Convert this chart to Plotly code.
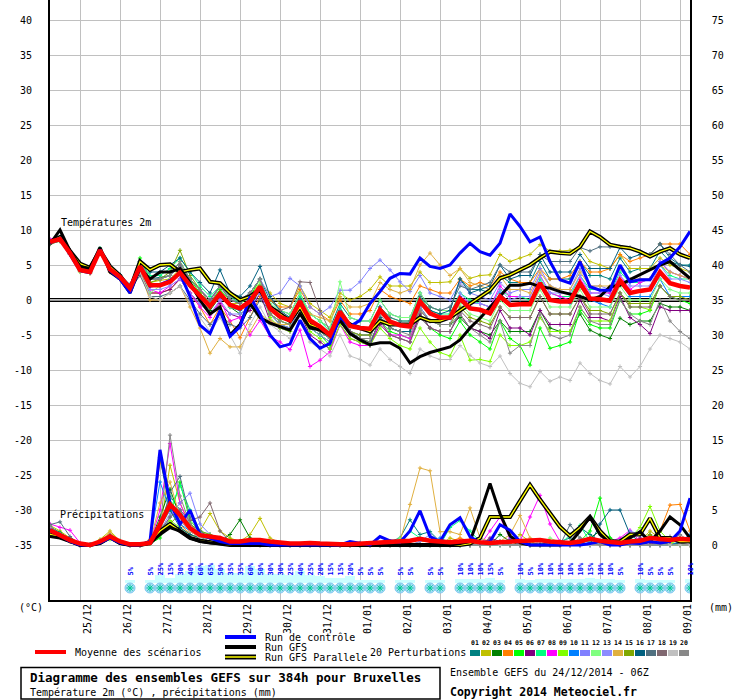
import plotly.graph_objects as go

# GEFS ensemble diagram (Meteociel style): 2m temperature + 6h precipitation
FONT = "DejaVu Sans Mono"
W, H = 740, 700
ML, MR, MT, MB = 50, 50, 0, 100          # plot area = 640 x 600 px

STEP = 6
HOURS = list(range(0, 385, STEP))        # 24/12 06Z -> 09/01 06Z, 65 outputs
DAY_LABELS = ["25/12", "26/12", "27/12", "28/12", "29/12", "30/12", "31/12", "01/01",
              "02/01", "03/01", "04/01", "05/01", "06/01", "07/01", "08/01", "09/01"]
DAY_HOURS = [18 + 24 * k for k in range(len(DAY_LABELS))]   # 00Z of each day

T_TICKS = list(range(-35, 45, 5))
MM_TICKS = list(range(0, 80, 5))
T_RANGE = [-300 / 7, 300 / 7]
MM_RANGE = [T_RANGE[0] + 35, T_RANGE[1] + 35]

COLORS = ["#008080", "#c0c000", "#008000", "#ff8000", "#00ff00", "#800080", "#00ff80",
          "#ff00ff", "#80ff00", "#0080ff", "#8080ff", "#80ff80", "#8c8cff", "#e0b040",
          "#80a800", "#006080", "#507080", "#806870", "#c0c0c0", "#888888"]

# ---- temperature 2m (°C) ----
MEAN_T = [8.3, 8.7, 6.7, 4.3, 4.0, 7.1, 4.4, 3.3, 1.7,
          4.8, 2.1, 2.1, 2.6, 3.9, 2.1, 0.5, -0.9, 0.9, -0.7, -1.2, -0.2, 1.9,
          -1.2, -2.4, -2.9, -0.2, -2.9, -3.8, -5.0, -1.7, -3.7, -4.0, -4.1, -1.4, -3.1, -3.6, -3.8, -0.2, -1.9, -2.5, -2.5,
          0.2, -1.2, -1.4, -1.9, 0.5, -0.7, -0.6, -0.6, 2.4, 0.0, -0.2, -0.2, 2.4, 0.2, 0.1, -0.1, 2.8, 1.0, 1.3, 1.5, 4.0, 2.4, 2.0, 1.8]
CTRL_T = [8.2, 8.8, 6.5, 4.2, 3.9, 7.2, 4.2, 3.0, 1.0,
          4.8, 2.0, 2.2, 2.8, 3.8, 0.5, -3.6, -4.8, -1.5, -5.2, -3.8, 0.5, -2.0,
          -5.0, -6.7, -6.3, -2.9, -5.5, -6.9, -6.2, -2.4, -3.8, -2.9, -0.5, 1.2, 3.1, 3.8, 3.7, 6.0, 4.8, 4.5, 5.0,
          6.7, 8.1, 6.9, 6.4, 8.1, 12.3, 10.5, 8.3, 9.0, 5.5, 2.9, 2.4, 5.5, 1.9, 1.4, 1.4, 5.0, 2.6, 2.9, 2.9, 5.2, 6.0, 7.6, 9.8]
GFS_T = [8.0, 10.0, 7.0, 4.8, 4.5, 7.5, 4.0, 3.0, 1.0,
         4.5, 3.0, 4.0, 4.0, 4.5, 2.5, 0.0, -2.0, -1.0, -5.0, -3.5, -0.5, -2.5,
         -3.3, -3.8, -4.3, -2.0, -4.0, -4.3, -5.0, -2.9, -4.8, -5.7, -6.4, -6.1, -6.1, -6.9, -9.0, -8.1, -7.5, -7.1, -6.7,
         -5.7, -4.0, -2.6, -1.0, 0.5, 2.1, 2.1, 2.4, 1.9, 1.7, 1.2, 0.9, 0.5, 0.0, 0.5, 1.9, 2.1, 2.9, 3.6, 4.3, 5.0, 5.5, 4.3, 3.1]
PARA_T = [8.3, 9.0, 7.0, 5.2, 4.6, 7.1, 4.8, 3.5, 1.5,
          5.5, 4.3, 5.0, 5.1, 4.0, 4.3, 4.5, 2.6, 2.4, 1.0, 0.0, 0.5, 1.5,
          -1.0, -2.0, -3.0, -1.0, -3.5, -4.0, -5.0, -2.5, -3.5, -4.0, -4.5, -3.0, -3.5, -3.5, -3.5, -2.5, -3.0, -3.0, -2.5,
          -1.5, -0.5, 0.5, 1.4, 3.1, 3.6, 4.3, 5.0, 6.0, 6.9, 6.7, 6.6, 7.6, 9.8, 9.0, 7.9, 7.6, 7.4, 6.9, 6.2, 6.9, 7.4, 6.5, 6.0]

T01 = [8.0, 8.5, 6.5, 4.5, 4.2, 7.0, 4.8, 3.5, 1.5,
       5.5, 3.0, 3.2, 3.5, 5.0, 3.0, 1.5, 0.0, 2.0, 0.5, 0.0, 1.0, 3.0,
       0.0, -1.5, -2.0, 1.0, -2.0, -3.0, -4.0, -0.5, -2.5, -3.0, -3.0, 0.0, -2.0, -2.5, -2.5, 1.0, -1.0, -1.5, -1.5,
       3.0, 1.5, 1.5, 1.0, 3.5, 2.5, 2.5, 2.5, 5.5, 3.0, 3.0, 3.0, 5.5, 3.5, 3.5, 3.0, 6.0, 4.0, 4.5, 4.5, 7.0, 5.5, 5.0, 5.0]
T02 = [8.5, 8.8, 7.0, 4.0, 3.8, 7.3, 4.2, 3.0, 1.8,
       5.0, 2.5, 2.8, 3.0, 4.5, 2.5, 1.0, -0.5, 1.5, -0.5, -0.5, 0.5, 2.5,
       1.0, -0.5, -1.0, 2.0, -0.5, -1.5, -2.5, 1.0, 0.0, 0.5, 1.5, 3.3, 2.0, 2.0, 2.0, 4.0, 2.5, 2.5, 2.6,
       4.5, 3.1, 3.5, 3.6, 6.5, 5.5, 6.0, 6.5, 7.9, 7.0, 7.0, 7.1, 7.5, 5.5, 5.0, 4.5, 6.5, 4.5, 4.5, 4.5, 6.0, 5.0, 4.5, 4.0]
T03 = [8.2, 8.6, 6.8, 4.4, 4.1, 7.0, 4.3, 3.2, 1.5,
       4.5, 2.0, 2.0, 2.5, 4.0, 2.0, 0.0, -1.5, 0.5, -1.0, -2.0, -1.0, 1.5,
       -2.0, -3.5, -4.0, -1.0, -4.0, -5.0, -6.0, -2.5, -4.5, -5.0, -5.0, -2.5, -4.0, -4.5, -4.5, -1.0, -3.0, -3.5, -3.5,
       -2.5, -4.0, -4.5, -5.0, -3.0, -4.5, -4.5, -4.5, -1.5, -4.0, -4.5, -4.5, -2.0, -4.3, -5.0, -5.5, -2.6, -3.5, -3.0, -3.0, -0.5, -1.0, -1.0, -1.5]
T04 = [8.0, 8.5, 6.5, 4.2, 3.8, 6.8, 4.0, 3.0, 1.5,
       4.0, 1.0, 1.0, 1.5, 3.0, 1.0, -1.0, -3.5, -1.0, -3.0, -5.4, -2.5, 0.5,
       0.0, -1.0, -1.0, 1.5, -1.0, -2.0, -3.0, 0.0, -2.0, -2.0, -1.5, 1.5, 0.5, 0.0, -0.5, 2.0, 1.5, 1.0, 1.0,
       3.0, 2.0, 2.5, 2.0, 4.0, 3.0, 2.5, 2.5, 4.5, 3.0, 3.0, 3.5, 5.5, 4.0, 4.0, 4.5, 6.5, 5.5, 6.0, 6.5, 8.0, 8.0, 8.0, 6.5]
T05 = [8.4, 8.9, 6.6, 4.1, 3.9, 7.2, 4.6, 3.5, 2.0,
       6.0, 3.0, 3.0, 3.5, 5.5, 3.0, 1.0, -0.5, 1.5, 0.0, -0.5, 0.5, 3.0,
       -2.0, -3.0, -3.5, -0.5, -4.0, -5.0, -6.5, -2.0, -4.5, -5.5, -6.0, -3.0, -4.5, -5.0, -5.5, -2.0, -4.0, -5.0, -5.5,
       -3.0, -5.0, -6.0, -7.0, -3.0, -5.5, -6.5, -9.3, -4.0, -6.9, -6.5, -6.0, -1.5, -3.5, -4.0, -4.0, 0.0, -2.0, -2.0, -1.5, 2.0, 0.5, 0.0, -0.5]
T06 = [8.1, 8.6, 6.6, 4.4, 4.2, 7.0, 4.2, 3.0, 1.4,
       4.0, 1.0, 1.0, 1.5, 3.0, 1.0, -0.5, -2.0, -0.5, -2.0, -2.5, -1.5, 1.0,
       -3.0, -4.0, -4.5, -2.0, -5.0, -6.0, -7.0, -3.5, -5.5, -6.0, -6.5, -3.5, -5.0, -5.5, -6.0, -2.0, -4.0, -4.5, -4.5,
       -2.0, -4.0, -4.5, -5.5, -1.5, -4.0, -4.0, -5.0, -1.5, -3.5, -3.5, -3.5, 0.0, -2.5, -2.5, -3.0, 0.5, -2.5, -3.5, -4.8, -1.0, -1.5, -1.5, -1.5]
T07 = [8.6, 9.0, 6.8, 4.3, 4.0, 7.4, 4.5, 3.4, 1.8,
       5.5, 3.5, 3.5, 4.5, 6.0, 4.0, 2.0, 0.5, 2.0, 0.5, -0.5, 1.0, 3.0,
       -1.0, -2.0, -2.5, 0.5, -2.0, -3.0, -4.5, -1.0, -3.5, -4.0, -4.0, -1.0, -2.5, -3.0, -3.0, 0.5, -1.5, -2.0, -2.0,
       1.0, 0.0, -0.5, -1.0, 1.5, 0.5, 0.5, 0.0, 3.0, 1.0, 0.5, 0.5, 3.5, 1.5, 1.5, 1.0, 4.0, 2.5, 2.5, 3.0, 5.0, 3.5, 3.0, 3.0]
T08 = [8.7, 9.0, 7.0, 4.5, 4.0, 6.9, 4.2, 3.0, 1.2,
       4.5, 1.5, 1.0, 2.0, 3.0, 1.0, -1.0, -2.5, 0.0, -3.0, -2.5, -5.0, -2.9,
       -5.2, -6.0, -7.1, -4.3, -9.5, -8.6, -7.4, -3.5, -6.0, -6.5, -6.5, -3.0, -5.0, -5.0, -5.5, -1.5, -3.0, -3.0, -2.5,
       0.5, -0.5, -0.5, -1.0, 2.0, 0.5, 0.5, 0.5, 3.5, 1.0, 0.5, 0.0, 3.0, 1.0, 1.0, 1.0, 3.5, 1.5, 2.5, 3.0, 5.5, 4.0, 3.5, 3.0]
T09 = [8.0, 8.4, 6.8, 4.5, 4.3, 7.2, 4.4, 3.2, 1.6,
       4.8, 2.0, 2.2, 2.5, 4.0, 2.0, 0.5, -1.0, 1.0, -1.0, -1.5, -0.5, 2.0,
       -2.5, -4.0, -4.5, -2.0, -4.5, -5.5, -7.0, -3.5, -5.5, -6.0, -6.5, -4.0, -5.5, -6.5, -7.0, -4.0, -6.0, -7.5, -8.0,
       -5.0, -8.6, -8.5, -8.8, -5.0, -6.5, -6.5, -6.0, -2.5, -4.5, -4.5, -4.5, -1.0, -3.0, -3.0, -3.0, 1.0, -1.0, -1.0, -1.4, 2.0, 0.5, 0.5, 0.5]
T10 = [8.3, 8.8, 6.6, 4.2, 4.0, 7.1, 4.4, 3.2, 1.7,
       5.0, 2.0, 2.0, 2.5, 4.0, 2.0, 0.5, -1.0, 1.0, -1.0, -1.5, 0.0, 2.0,
       -1.5, -2.5, -3.0, 0.0, -3.0, -4.0, -5.0, -1.5, -3.5, -4.0, -4.0, -1.0, -3.0, -3.5, -3.5, 0.0, -2.0, -2.5, -2.5,
       0.5, -1.0, -1.5, -2.0, 1.0, -0.5, -0.5, -0.5, 2.5, 0.0, 0.0, -0.5, 2.5, 0.0, -0.5, -1.0, 2.5, 0.5, 0.5, 0.5, 3.0, 0.5, 0.5, 0.5]
T11 = [8.5, 8.7, 6.7, 4.4, 4.1, 7.3, 4.6, 3.4, 2.0,
       5.5, 3.0, 3.0, 3.5, 5.0, 3.0, 1.5, 0.0, 2.0, 0.0, -0.5, 1.0, 3.0,
       0.5, 1.0, 3.1, 2.0, -1.0, -2.0, -1.0, 1.4, 1.4, 2.6, 4.5, 5.7, 4.3, 2.6, 1.2, 3.5, 1.0, 0.5, 0.0,
       2.5, 1.0, 0.5, 0.0, 2.5, 1.0, 1.5, 1.5, 4.5, 2.0, 1.5, 1.5, 4.5, 2.0, 2.0, 1.5, 4.5, 2.5, 3.0, 3.0, 5.5, 4.0, 3.5, 3.0]
T12 = [8.2, 8.6, 6.9, 4.3, 4.0, 7.0, 4.3, 3.3, 1.9,
       4.5, 1.0, 2.0, 3.0, 4.0, 2.5, 0.5, -1.0, 1.0, -1.0, -1.0, 0.0, 2.5,
       -0.5, -1.5, -2.0, 1.0, -2.0, -3.0, -4.0, 2.6, -2.5, -3.0, -3.0, 0.0, -2.0, -2.5, -2.5, 1.0, -1.0, -1.5, -1.5,
       -0.5, -2.0, -2.5, -3.0, 0.0, -1.5, -1.5, -1.5, 1.5, -1.0, -1.0, -1.0, 1.5, -1.0, -1.0, -1.0, 2.0, 0.0, 0.0, 0.0, 3.0, 1.5, 1.0, 1.0]
T13 = [8.4, 8.8, 6.5, 4.2, 4.1, 7.2, 4.5, 3.3, 1.6,
       4.5, 1.5, 1.5, 2.0, 3.0, 1.0, -0.5, -2.0, 0.0, -2.0, -2.0, -1.0, 1.0,
       -2.0, -3.5, -4.0, -1.0, -4.0, -5.0, -6.0, -2.5, -4.5, -5.0, -5.0, -2.5, -4.0, -4.5, -4.5, -1.0, -3.0, -3.5, -3.5,
       1.0, -0.5, -0.5, -1.0, 1.5, 0.0, 0.5, 0.5, 3.5, 1.0, 1.0, 1.0, 3.5, 1.0, 1.0, 0.5, 3.5, 2.0, 2.0, 2.0, 5.0, 3.0, 3.0, 2.5]
T14 = [8.0, 8.5, 6.8, 4.5, 4.2, 6.8, 4.0, 3.0, 1.5,
       4.0, 0.0, 0.0, 1.0, 2.0, -1.0, -4.0, -7.6, -5.5, -6.7, -6.7, -4.5, -2.0,
       -3.0, -3.5, -3.5, -0.5, -2.0, -2.5, -3.0, 0.5, -1.0, -1.0, -0.5, 2.5, 1.5, 1.0, 1.5, 5.0, 6.7, 5.0, 3.5,
       4.5, 2.5, 2.0, 1.5, 3.5, 1.5, 1.5, 1.0, 4.0, 2.0, 1.5, 1.5, 4.0, 2.0, 2.0, 2.0, 4.5, 3.0, 3.0, 3.0, 5.0, 4.0, 3.5, 3.0]
T15 = [8.3, 8.6, 6.7, 4.4, 4.0, 7.1, 4.5, 3.5, 1.8,
       5.0, 2.5, 3.0, 4.0, 7.1, 3.5, 1.5, -0.5, 1.0, -0.5, -1.0, 0.0, 2.0,
       -2.0, -3.0, -3.5, -1.0, -3.5, -4.5, -5.5, -2.5, -4.5, -5.0, -5.0, -2.5, -4.0, -4.5, -4.5, -1.5, -3.0, -3.5, -3.5,
       -1.0, -2.5, -3.0, -3.5, -1.0, -2.5, -2.5, -2.5, 0.5, -2.0, -2.0, -2.0, 0.5, -1.5, -1.5, -2.0, 1.0, -0.5, -0.5, -0.5, 2.0, 0.5, 0.5, 0.0]
T16 = [8.1, 8.5, 6.9, 4.6, 4.3, 7.2, 4.6, 3.6, 2.2,
       5.5, 4.0, 4.0, 5.0, 6.0, 4.0, 2.5, 1.0, 4.3, 1.0, 0.5, 2.0, 4.8,
       0.5, -1.5, -2.5, 0.0, -3.5, -4.5, -5.5, -2.5, -4.5, -5.5, -6.4, -2.5, -4.0, -4.5, -4.5, 0.0, -1.5, -2.0, -1.5,
       3.0, 1.0, 1.5, 2.0, 5.0, 3.0, 3.5, 3.5, 6.5, 4.0, 4.0, 4.0, 6.5, 4.5, 4.5, 4.5, 7.5, 6.0, 6.5, 6.5, 8.0, 6.0, 5.0, 4.8]
T17 = [8.0, 8.4, 6.6, 4.3, 4.1, 6.9, 4.1, 3.0, 1.5,
       3.5, 0.5, 0.5, 1.0, 2.0, 0.0, -2.0, -3.5, -2.0, -3.5, -4.0, -2.5, 0.0,
       -1.5, -2.5, -3.0, 0.0, -3.0, -4.0, -5.0, -1.5, -3.5, -4.0, -4.0, -1.0, -2.5, -3.0, -3.0, 0.5, -1.0, -1.5, -1.0,
       2.0, 1.5, 2.0, 2.5, 5.0, 4.0, 4.0, 4.0, 6.5, 5.5, 5.5, 5.5, 7.5, 7.0, 7.6, 7.6, 7.6, 7.5, 7.0, 6.5, 8.0, 6.5, 5.0, 4.0]
T18 = [8.2, 8.7, 6.7, 4.3, 3.9, 7.0, 4.4, 3.3, 1.7,
       5.5, 3.0, 3.0, 3.5, 5.0, 3.0, 1.5, 0.0, 2.0, 0.0, -0.5, 1.0, 3.0,
       -1.0, -1.5, -1.0, 2.6, 2.5, -1.5, -4.5, -2.0, -4.5, -5.5, -6.0, -3.0, -5.0, -5.5, -6.0, -2.5, -4.0, -4.5, -4.5,
       -1.5, -3.0, -3.5, -4.0, -1.0, -2.5, -2.5, -2.5, 0.5, -2.0, -2.0, -2.0, 0.5, -2.0, -2.0, -2.0, 1.0, -1.0, -1.0, -1.0, 2.0, 0.5, 0.0, 0.0]
T19 = [8.4, 8.8, 6.7, 4.1, 3.8, 7.0, 4.2, 3.1, 1.4,
       4.0, 0.5, 0.0, 1.0, 2.0, -0.5, -2.5, -4.5, -2.5, -5.0, -7.6, -3.5, -1.0,
       -3.5, -4.5, -5.5, -3.0, -6.0, -7.0, -8.0, -5.0, -8.0, -8.5, -9.3, -7.0, -8.5, -9.5, -10.5, -7.0, -8.0, -8.5, -8.5,
       -6.5, -7.9, -9.0, -9.5, -8.0, -10.5, -11.9, -12.4, -10.2, -11.6, -11.0, -11.5, -9.0, -10.5, -11.5, -12.0, -9.5, -11.0, -9.5, -7.0, -5.0, -5.5, -6.0, -7.0]
T20 = [8.5, 8.9, 6.8, 4.4, 4.0, 7.2, 4.3, 3.2, 1.7,
       5.5, 3.0, 3.0, 3.5, 5.5, 3.0, 1.5, -0.5, 2.0, 0.5, 0.0, 1.0, 3.0,
       -2.0, -3.0, -3.5, -0.5, -3.5, -4.5, -5.5, -2.5, -5.0, -5.5, -5.5, -2.0, -4.0, -4.5, -5.0, -1.5, -3.0, -3.5, -3.5,
       -2.0, -4.0, -5.0, -6.0, -3.0, -7.6, -6.5, -6.5, -2.0, -5.0, -5.5, -5.0, -1.0, -3.0, -3.5, -3.5, 0.0, -2.0, -3.0, -3.5, 0.0, -3.0, -4.5, -5.5]

# ---- precipitation per 6h (mm) ----
MEAN_P = [2.1, 1.4, 0.7, 0.2, 0.0, 0.5, 1.2, 0.5, 0.1, 0.1, 0.3, 2.9, 5.8, 4.3, 2.4, 1.4, 1.2, 1.0, 0.5, 0.5,
          0.7, 0.7, 0.5, 0.3, 0.2, 0.2, 0.3, 0.2, 0.1, 0.1, 0.1, 0.2, 0.2, 0.3, 0.4, 0.5, 0.6, 0.9, 0.6, 0.5,
          0.4, 0.5, 0.6, 0.4, 0.3, 0.4, 0.5, 0.5, 0.6, 0.7, 0.5, 0.4, 0.3, 0.5, 0.9, 0.6, 0.4, 0.3, 0.5, 0.6,
          1.0, 0.8, 0.7, 0.9, 0.8]
CTRL_P = [2.2, 1.3, 0.5, 0.0, 0.0, 0.3, 1.0, 0.3, 0.0, 0.0, 0.5, 13.6, 6.0, 3.0, 5.0, 1.5, 1.0, 0.5, 0.2, 0.2,
          0.3, 0.2, 0, 0, 0, 0, 0, 0, 0, 0, 0.5, 0.2, 0, 1.2, 0.6, 0.4, 2.0, 4.9, 1.2, 0.5,
          2.9, 3.9, 1.2, 0.3, 0.5, 2.9, 2.1, 0.5, 0, 0, 0, 0, 0, 0, 0.2, 0.5, 0, 0, 0.3, 0.2,
          0.5, 0.3, 0.5, 2.0, 6.7]
GFS_P = [1.2, 1.0, 0.5, 0, 0, 0.2, 1.0, 0.2, 0, 0, 0.2, 1.5, 2.5, 2.0, 1.0, 0.5, 0.3, 0.2, 0, 0,
         0, 0, 0, 0, 0, 0, 0, 0, 0, 0, 0, 0, 0, 0, 0, 0, 0, 0, 0, 0,
         0, 0.2, 0.5, 4.5, 8.8, 4.5, 1.3, 0.3, 0, 0, 0, 0, 0.3, 2.0, 4.0, 1.5, 0.3, 0, 1.0, 1.9,
         0.5, 2.0, 4.0, 2.9, 1.0]
PARA_P = [1.5, 1.2, 0.6, 0, 0, 0.3, 1.2, 0.3, 0, 0, 0.3, 2.0, 3.0, 2.0, 1.0, 0.6, 0.4, 0.2, 0, 0,
          0, 0, 0, 0, 0, 0, 0, 0, 0, 0, 0, 0, 0, 0, 0, 0, 0, 0, 0, 0,
          0, 0, 0.2, 1.0, 4.0, 4.0, 4.0, 6.3, 8.6, 6.5, 4.5, 2.6, 1.3, 2.5, 4.0, 2.0, 0.5, 0.5, 1.5, 1.5,
          3.8, 1.0, 1.0, 0.5, 0.5]

R01 = [2.5, 1.5, 0.8, 0.1, 0, 0.5, 1.5, 0.5, 0, 0, 0.3, 3.0, 7.0, 5.0, 2.5, 1.5, 1.0, 0.8, 0.5, 0.3, 0.5, 0.3, 0.2,
       0, 0, 0, 0, 0, 0, 0, 0, 0, 0,
       0, 0.5, 1.0, 3.6, 1.5, 1.9, 0.5, 0, 0, 0, 0, 0, 0, 0, 0, 0,
       0, 0, 0.5, 1.0, 2.5, 1.5, 0.5, 0, 0, 0, 0.5, 1.5, 0.5, 0, 0, 0]
R02 = [2.8, 2.0, 1.0, 0.2, 0, 0.8, 2.0, 0.6, 0, 0, 0.2, 2.0, 11.4, 6.0, 3.0, 2.0, 4.5, 2.0, 1.0, 0.5, 1.5, 3.8, 1.0,
       0.3, 0, 0, 0, 0, 0, 0, 0, 0, 0.2,
       0, 0, 0, 0, 0.5, 0.5, 0, 1.0, 0.5, 0, 0, 0, 0, 0, 1.5, 0.5,
       0, 0, 0, 0, 0, 0, 0, 0, 0, 0, 0.5, 2.0, 1.0, 0.3, 0, 0]
R03 = [2.3, 1.5, 0.6, 0, 0, 0.5, 1.2, 0.4, 0, 0, 0.5, 4.0, 8.0, 4.0, 2.0, 1.0, 0.5, 0.5, 1.5, 3.6, 1.0, 0.5, 0.3,
       0, 0, 0, 0, 0, 0, 0, 0, 0, 0,
       0, 0, 0, 0, 0, 0, 0, 0, 0, 0, 0, 0, 1.5, 0.5, 0, 0,
       0, 0, 0, 0, 0, 1.0, 2.0, 1.0, 0.3, 0, 0, 0, 0, 0.5, 1.0, 0.5]
R04 = [2.0, 1.2, 0.5, 0, 0, 0.3, 1.5, 0.5, 0, 0, 0.8, 12.0, 6.5, 3.0, 1.5, 1.0, 0.5, 0.3, 0.2, 0.2, 0.5, 0.3, 0,
       0, 0, 0, 0, 0, 0, 0, 0, 0, 0,
       0, 0, 0, 0, 0, 0, 0, 0.5, 1.0, 0.5, 0, 0, 0, 0, 0, 0,
       0, 0, 0, 0, 0, 0, 0, 0, 0, 0, 0, 0.5, 2.0, 5.7, 5.8, 2.0]
R05 = [2.6, 1.8, 0.8, 0, 0, 0.5, 1.0, 0.4, 0, 0, 0.2, 1.0, 4.0, 9.0, 3.5, 2.0, 1.0, 1.0, 0.5, 0.3, 0.3, 0.2, 0,
       0, 0, 0, 0, 0, 0, 0, 0, 0, 0,
       0, 0, 0, 0, 0, 0, 0, 0, 0, 0, 0, 0, 0, 0, 0, 0,
       0, 0, 0, 0, 0.5, 2.0, 6.7, 1.0, 0, 0, 0, 0, 0, 0, 0, 0]
R06 = [2.4, 1.4, 0.7, 0, 0, 0.4, 1.3, 0.5, 0, 0, 0.3, 3.5, 6.0, 3.5, 2.0, 1.0, 0.5, 0.5, 0.3, 0.2, 0.2, 0, 0,
       0, 0, 0, 0, 0, 0, 0, 0, 0, 0,
       0, 0, 0, 0, 0, 0, 0, 0, 0, 0, 0, 1.0, 0.5, 0, 0, 0,
       0, 0.5, 0, 0, 0, 0, 0, 0, 0, 0, 1.0, 0.3, 0, 0, 0, 0]
R07 = [2.2, 1.3, 0.6, 0, 0, 0.5, 1.4, 0.6, 0, 0, 0.3, 2.5, 5.0, 8.5, 5.0, 2.0, 1.5, 1.0, 0.5, 0.5, 0.3, 0.2, 0,
       0, 0, 0, 0, 0, 0, 0, 0, 0, 0,
       0, 0, 0, 2.0, 1.0, 0.5, 0, 2.5, 3.5, 2.0, 0.5, 0, 0, 0, 0, 0,
       0, 0, 0, 1.5, 2.8, 0.5, 0, 0, 0, 0, 0, 0, 0, 0, 0, 0]
R08 = [3.0, 2.5, 2.1, 0.3, 0, 0.5, 1.2, 0.4, 0, 0, 0.3, 5.0, 14.5, 6.0, 2.5, 1.0, 0.5, 0.3, 0.2, 0, 0, 0, 0,
       0, 0, 0, 0, 0, 0, 0, 0, 0, 0,
       0, 0, 0, 0, 0, 0, 0, 0, 0, 0, 0, 2.0, 4.0, 1.0, 0.5, 4.0,
       7.1, 3.0, 0.5, 0, 0, 0, 0, 0.5, 1.0, 2.1, 0.5, 0, 0, 0, 0, 0]
R09 = [2.0, 1.1, 0.5, 0, 0, 0.3, 0.8, 0.3, 0, 0, 0.5, 2.5, 3.5, 2.5, 1.5, 1.0, 0.5, 0.3, 0.5, 0.3, 0.2, 0, 0,
       0, 0, 0, 0, 0, 0, 0, 0, 0, 0,
       0, 0, 0, 0, 0, 0, 0, 0, 0, 0, 0, 0, 0, 0, 0, 0,
       0, 0, 0, 0, 0, 0, 0, 0, 0.3, 1.0, 2.5, 5.5, 2.0, 0.5, 0, 0]
R10 = [2.5, 1.6, 0.8, 0.1, 0, 0.6, 1.1, 0.4, 0, 0, 0.5, 9.0, 5.0, 3.0, 2.0, 1.5, 1.0, 0.5, 0.3, 0.2, 0.2, 0, 0,
       0, 0, 0, 0, 0, 0, 0, 0, 0.3, 0,
       0, 0, 0, 0, 0, 0, 1.0, 0.3, 0, 0, 0, 0, 0, 0.8, 0, 0,
       0, 0, 0, 0, 0, 0, 0, 0.3, 0.5, 0, 0, 0, 0, 0, 0.5, 1.5]
R11 = [2.7, 1.5, 0.8, 0, 0, 0.4, 1.0, 0.3, 0, 0, 0.2, 1.5, 4.0, 6.0, 7.4, 3.0, 1.5, 1.0, 0.5, 0.3, 0.2, 0.2, 0,
       0, 0, 0, 0, 0, 0, 0, 0, 0, 0,
       0, 0, 0, 0, 0.5, 1.5, 0.5, 0, 0, 0, 0, 0, 0, 0, 0, 0,
       0, 0, 0, 0, 0, 0, 0, 0, 0.5, 2.0, 1.5, 0.5, 0, 0, 0, 0]
R12 = [2.3, 1.4, 0.7, 0, 0, 0.5, 1.3, 0.5, 0, 0, 0.4, 3.0, 6.5, 4.0, 2.0, 1.5, 1.0, 0.8, 0.5, 0.3, 0.2, 0, 0,
       0, 0, 0, 0, 0, 0, 0, 0, 0, 0,
       0, 0, 1.0, 0.3, 0, 0, 0, 0, 0, 0, 0, 0, 0, 0, 0, 0,
       0, 1.0, 0.3, 0, 0, 0, 0, 0, 0, 0, 0, 0, 0, 0, 0, 0]
R13 = [2.4, 1.5, 0.6, 0, 0, 0.5, 1.1, 0.4, 0, 0, 0.3, 2.0, 4.5, 5.0, 3.0, 2.0, 1.0, 0.5, 0.3, 0.3, 0.2, 0, 0,
       0, 0, 0, 0, 0, 0, 0, 0, 0, 0,
       0, 0, 0, 0, 0, 0, 0, 0, 0, 0, 1.0, 0.3, 0, 0, 0, 0,
       0, 0, 0, 0, 0, 0, 0, 0, 0, 0, 0, 0, 0.3, 1.0, 0.3, 0]
R14 = [2.1, 1.2, 0.5, 0, 0, 0.6, 1.8, 0.5, 0, 0, 0.4, 6.0, 9.0, 4.0, 2.0, 1.0, 0.5, 0.5, 0.3, 0.2, 0.2, 0, 0,
       0, 0, 0, 0, 0, 0, 0, 0, 0, 0,
       0, 0, 0.5, 5.8, 11.0, 10.6, 1.9, 1.9, 1.5, 5.3, 1.0, 0.5, 0.5, 1.5, 4.2, 1.0,
       0.5, 0.5, 0.5, 0.5, 0, 0, 0, 0, 0, 0, 0, 0, 0, 0, 0, 0]
R15 = [2.2, 1.3, 0.6, 0, 0, 0.4, 1.2, 0.4, 0, 0, 0.2, 1.5, 3.0, 4.5, 3.0, 2.0, 1.5, 1.0, 0.8, 0.5, 0.3, 0.2, 0,
       0, 0, 0, 0, 0, 0, 0, 0, 0, 0,
       0, 0, 0, 0, 0, 0, 0, 0, 0, 0, 0, 0, 0, 0, 0, 0,
       0, 0, 0, 0, 0, 1.0, 0.3, 0, 0, 0, 0.5, 1.5, 0.5, 0, 0, 0]
R16 = [2.6, 1.7, 0.9, 0.1, 0, 0.5, 1.0, 0.3, 0, 0, 0.6, 12.5, 5.0, 2.5, 1.5, 1.0, 1.0, 0.5, 0.3, 0.2, 0.2, 0, 0,
       0, 0, 0, 0, 0, 0, 0, 0, 0, 0,
       0, 0, 0, 0, 0, 0, 0, 0, 0, 0, 0, 0, 0, 0, 0, 0,
       0, 0, 0, 0, 0, 0, 3.0, 5.0, 5.0, 1.5, 0.5, 0, 0, 0, 0.3, 1.0]
R17 = [2.9, 3.3, 1.2, 0.1, 0, 0.5, 1.3, 0.5, 0, 0, 0.3, 2.0, 7.5, 9.8, 4.0, 2.0, 1.0, 0.5, 0.3, 0.2, 0, 0, 0,
       0, 0, 0, 0, 0, 0, 0, 0, 0, 0,
       0, 0, 0, 0, 0, 0, 0, 0, 0, 0, 0, 0, 0, 0, 0, 0,
       0, 0, 0, 2.9, 1.0, 0.3, 0, 0, 0, 0, 0, 0, 0, 0, 0, 0]
R18 = [2.4, 1.4, 0.7, 0, 0, 0.5, 1.4, 0.4, 0, 0, 0.3, 2.0, 4.0, 5.0, 3.5, 4.0, 6.0, 2.0, 0.5, 0.3, 0.2, 0, 0,
       0, 0, 0, 0, 0, 0, 0, 0, 0, 0,
       0, 0, 0, 0, 0, 0, 0, 0, 0, 0, 0, 0.8, 0.3, 0, 0, 0,
       0, 0, 0, 0, 0, 0, 0, 0, 0, 0, 0, 0, 0.5, 1.2, 0.3, 0]
R19 = [2.5, 1.5, 0.7, 0, 0, 0.4, 1.2, 0.4, 0, 0, 0.3, 3.0, 5.5, 3.5, 2.0, 1.0, 0.5, 0.3, 0.2, 0, 0, 0, 0,
       0, 0, 0, 0, 0, 0, 0, 0, 0, 0,
       0, 0, 0, 0, 0, 0, 0, 0, 0, 0, 0, 0, 0, 0, 0, 0,
       0.5, 0, 0, 0, 0, 0, 0, 0, 0, 0, 0, 0, 0, 0, 0, 0]
R20 = [2.7, 1.6, 0.8, 0, 0, 0.6, 1.3, 0.5, 0, 0, 0.4, 2.5, 15.7, 7.0, 3.0, 1.5, 1.0, 0.5, 0.3, 0.2, 0.2, 0, 0,
       0, 0, 0, 0, 0, 0, 0, 0, 0, 0,
       0, 0, 0, 0, 0, 0, 0, 0, 0, 0, 0, 0, 0.5, 0, 0, 0,
       0, 0, 0, 0, 1.0, 0.3, 0, 0, 0, 0, 0, 0, 0, 0.5, 1.5, 0.5]

PERT_T = [T01, T02, T03, T04, T05, T06, T07, T08, T09, T10,
          T11, T12, T13, T14, T15, T16, T17, T18, T19, T20]
PERT_P = [R01, R02, R03, R04, R05, R06, R07, R08, R09, R10,
          R11, R12, R13, R14, R15, R16, R17, R18, R19, R20]

# ---- snow probability (% of members) per output step ----
SNOW_STEPS = [8, 10, 11, 12, 13, 14, 15, 16, 17, 18, 19, 20, 21, 22, 23, 24, 25, 26, 27, 28,
              29, 30, 31, 32, 33, 35, 36, 38, 39, 41, 42, 43, 44, 45, 47, 48, 49, 50, 51, 52,
              53, 54, 55, 56, 57, 59, 60, 61, 62, 64]
SNOW_PCT = [5, 5, 25, 15, 30, 40, 60, 65, 50, 35, 35, 60, 50, 30, 30, 25, 40, 25, 20, 15,
            15, 20, 5, 5, 5, 5, 5, 5, 5, 10, 10, 10, 15, 5, 10, 5, 10, 10, 10, 10,
            10, 15, 10, 10, 5, 10, 5, 5, 5, 10]


def px(x):          # pixel -> paper x
    return (x - ML) / (W - ML - MR)


def py(y):          # pixel -> paper y
    return (H - MB - y) / (H - MT - MB)


def t_of(y):        # pixel -> temperature axis value
    return (300 - y) / 7


fig = go.Figure()

for k in range(20):
    c = COLORS[k]
    common = dict(mode="lines+markers", line=dict(color=c, width=1),
                  marker=dict(symbol="cross-thin", size=3, line=dict(color=c, width=1)),
                  showlegend=False, hoverinfo="skip")
    fig.add_trace(go.Scatter(x=HOURS, y=PERT_T[k], **common))
    fig.add_trace(go.Scatter(x=HOURS, y=PERT_P[k], yaxis="y2", **common))

for ya, para, gfs, ctrl, mean in (("y", PARA_T, GFS_T, CTRL_T, MEAN_T),
                                  ("y2", PARA_P, GFS_P, CTRL_P, MEAN_P)):
    for ys, col, wd in ((para, "#000000", 4), (para, "#ffff00", 1.3),
                        (gfs, "#000000", 3), (ctrl, "#0000ff", 3), (mean, "#ff0000", 4.5)):
        fig.add_trace(go.Scatter(x=HOURS, y=ys, yaxis=ya, mode="lines",
                                 line=dict(color=col, width=wd),
                                 showlegend=False, hoverinfo="skip"))

# snow row: cyan bars scaled by probability, snowflake icons, % labels
snow_x = [s * STEP for s in SNOW_STEPS]
fig.add_trace(go.Bar(x=snow_x, y=[(1.75 + 0.25 * p) / 7 for p in SNOW_PCT], base=t_of(583),
                     width=STEP, marker=dict(color="#ccffff", line=dict(width=0)),
                     showlegend=False, hoverinfo="skip"))
fig.add_trace(go.Scatter(x=snow_x, y=[t_of(588)] * len(snow_x), mode="markers",
                         marker=dict(symbol="circle", size=10, color="#a6dcf6",
                                     line=dict(color="#7cc6ee", width=1)),
                         showlegend=False, hoverinfo="skip"))
fig.add_trace(go.Scatter(x=snow_x, y=[t_of(588)] * len(snow_x), mode="markers",
                         marker=dict(symbol="asterisk-open", size=6,
                                     line=dict(color="#4fa8e0", width=1)),
                         showlegend=False, hoverinfo="skip"))

ann = []
for xh, p in zip(snow_x, SNOW_PCT):
    ann.append(dict(x=xh, y=t_of(578), xref="x", yref="y", text=f"{p}%", textangle=-90,
                    showarrow=False, xanchor="center", yanchor="bottom",
                    font=dict(family=FONT, size=7, color="#0000ff", weight="bold")))

for h, lab in zip(DAY_HOURS, DAY_LABELS):
    ann.append(dict(x=h + 4.2, y=py(602), xref="x", yref="paper", text=lab, textangle=-90,
                    showarrow=False, xanchor="center", yanchor="top",
                    font=dict(family=FONT, size=10, color="#000000")))


def txt(x, y, s, size=10, bold=False, anchor="left"):
    ann.append(dict(x=px(x), y=py(y), xref="paper", yref="paper", text=s, showarrow=False,
                    xanchor=anchor, yanchor="middle",
                    font=dict(family=FONT, size=size, color="#000000",
                              weight="bold" if bold else "normal")))


txt(59, 222.5, "Températures 2m")
txt(58, 514.5, "Précipitations")
txt(31, 607, "(°C)", anchor="center")
txt(721, 607, "(mm)", anchor="center")
txt(73, 652, "Moyenne des scénarios")
txt(263, 637, "Run de contrôle")
txt(263, 647, "Run GFS")
txt(263, 657, "Run GFS Parallele")
txt(368, 652, "20 Perturbations")
txt(28, 678, "Diagramme des ensembles GEFS sur 384h pour Bruxelles", size=12.5, bold=True)
txt(28, 692.5, "Température 2m (°C) , précipitations (mm)")
txt(448, 672.5, "Ensemble GEFS du 24/12/2014 - 06Z")
txt(448, 692, "Copyright 2014 Meteociel.fr", size=11.5, bold=True)
for k in range(20):
    txt(475 + 11 * k, 643, f"{k + 1:02d}", size=6.5, bold=True, anchor="center")

shapes = []
for yv in (0.2, -0.2):          # double zero line
    shapes.append(dict(type="line", xref="x", yref="y", x0=0, x1=384, y0=yv, y1=yv,
                       line=dict(color="#000000", width=1.2), layer="between"))


def legline(x0, x1, y, col, wd):
    shapes.append(dict(type="line", xref="paper", yref="paper", x0=px(x0), x1=px(x1),
                       y0=py(y), y1=py(y), line=dict(color=col, width=wd)))


legline(35, 66, 652, "#ff0000", 4)
legline(225, 256, 637, "#0000ff", 4)
legline(225, 256, 647, "#000000", 4)
legline(225, 256, 657, "#000000", 5)
legline(225, 256, 657, "#ffff00", 1.5)
for k in range(20):
    shapes.append(dict(type="rect", xref="paper", yref="paper",
                       x0=px(470 + 11 * k), x1=px(480 + 11 * k), y0=py(656), y1=py(650),
                       fillcolor=COLORS[k], line=dict(width=0)))
shapes.append(dict(type="rect", xref="paper", yref="paper", x0=px(21), x1=px(440),
                   y0=py(699), y1=py(667.5), line=dict(color="#000000", width=1.5)))

grid = "#c0c0c0"
fig.update_layout(
    width=W, height=H, margin=dict(l=ML, r=MR, t=MT, b=MB),
    paper_bgcolor="#ffffff", plot_bgcolor="#ffffff",
    font=dict(family=FONT, size=10, color="#000000"),
    showlegend=False, hovermode=False, bargap=0,
    xaxis=dict(range=[0, 384], tickvals=DAY_HOURS, showticklabels=False, ticks="",
               showgrid=True, gridcolor=grid, gridwidth=1, zeroline=False,
               showline=True, linecolor="#000000", linewidth=2),
    yaxis=dict(range=T_RANGE, tickvals=T_TICKS, ticktext=[str(v) for v in T_TICKS],
               showgrid=True, gridcolor=grid, gridwidth=1, zeroline=False, ticks="",
               showline=True, linecolor="#000000", linewidth=2, ticklabelstandoff=14,
               tickfont=dict(family=FONT, size=10, color="#000000")),
    yaxis2=dict(range=MM_RANGE, tickvals=MM_TICKS, overlaying="y", side="right",
                showgrid=False, zeroline=False, ticks="", showline=True,
                linecolor="#000000", linewidth=1.5, ticklabelstandoff=18,
                tickfont=dict(family=FONT, size=10, color="#000000")),
    annotations=ann, shapes=shapes,
)

# page body has a default 8px margin; drop it so the figure sits at the window origin
fig.write_html("out.html", config=dict(displayModeBar=False),
               post_script="document.body.style.margin='0';")
